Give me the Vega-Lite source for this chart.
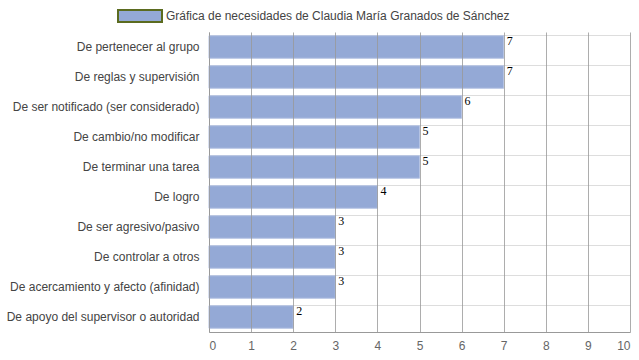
{
  "$schema": "https://vega.github.io/schema/vega-lite/v6.json",
  "width": 421,
  "height": 300,
  "autosize": {"type": "none"},
  "padding": {"left": 209, "top": 32, "right": 9, "bottom": 28},
  "background": "white",
  "config": {"view": {"stroke": null}, "font": "Liberation Sans"},
  "data": {"values": [
    {"necesidad": "De pertenecer al grupo", "valor": 7, "serie": "Gráfica de necesidades de Claudia María Granados de Sánchez"},
    {"necesidad": "De reglas y supervisión", "valor": 7, "serie": "Gráfica de necesidades de Claudia María Granados de Sánchez"},
    {"necesidad": "De ser notificado (ser considerado)", "valor": 6, "serie": "Gráfica de necesidades de Claudia María Granados de Sánchez"},
    {"necesidad": "De cambio/no modificar", "valor": 5, "serie": "Gráfica de necesidades de Claudia María Granados de Sánchez"},
    {"necesidad": "De terminar una tarea", "valor": 5, "serie": "Gráfica de necesidades de Claudia María Granados de Sánchez"},
    {"necesidad": "De logro", "valor": 4, "serie": "Gráfica de necesidades de Claudia María Granados de Sánchez"},
    {"necesidad": "De ser agresivo/pasivo", "valor": 3, "serie": "Gráfica de necesidades de Claudia María Granados de Sánchez"},
    {"necesidad": "De controlar a otros", "valor": 3, "serie": "Gráfica de necesidades de Claudia María Granados de Sánchez"},
    {"necesidad": "De acercamiento y afecto (afinidad)", "valor": 3, "serie": "Gráfica de necesidades de Claudia María Granados de Sánchez"},
    {"necesidad": "De apoyo del supervisor o autoridad", "valor": 2, "serie": "Gráfica de necesidades de Claudia María Granados de Sánchez"}
  ]},
  "encoding": {
    "y": {
      "field": "necesidad", "type": "nominal", "sort": null, "title": null,
      "scale": {"paddingInner": 0.25, "paddingOuter": 0.125},
      "axis": {"grid": true, "bandPosition": 0, "gridColor": "#dddddd", "ticks": false, "domainColor": "#999999", "labelColor": "#444444", "labelFontSize": 12, "labelPadding": 10, "labelLimit": 220}
    },
    "x": {
      "field": "valor", "type": "quantitative", "title": null,
      "scale": {"domain": [0, 10]},
      "axis": {"tickCount": 10, "grid": true, "gridColor": "#999999", "gridOpacity": 0.8, "ticks": false, "domainColor": "#999999", "labelColor": "#666666", "labelFontSize": 12, "labelPadding": 8, "zindex": 1}
    }
  },
  "layer": [
    {
      "mark": {"type": "bar", "stroke": "#b5c3e3", "strokeWidth": 1},
      "encoding": {
        "color": {
          "field": "serie", "type": "nominal", "title": null,
          "scale": {"range": ["#94a9d6"]},
          "legend": {
            "orient": "none", "legendX": -92, "legendY": -39,
            "symbolType": "M-1,-0.273H1V0.273H-1Z", "symbolSize": 1936,
            "symbolStrokeColor": "#5b6b1f", "symbolStrokeWidth": 2, "symbolFillColor": "#94a9d6",
            "labelFontSize": 12, "labelColor": "#444444", "labelLimit": 500, "labelOffset": 3, "padding": 0
          }
        }
      }
    },
    {
      "mark": {"type": "text", "align": "left", "baseline": "middle", "dx": 3, "dy": -6, "font": "Liberation Serif", "fontSize": 12, "color": "black"},
      "encoding": {"text": {"field": "valor", "type": "quantitative"}}
    }
  ]
}
